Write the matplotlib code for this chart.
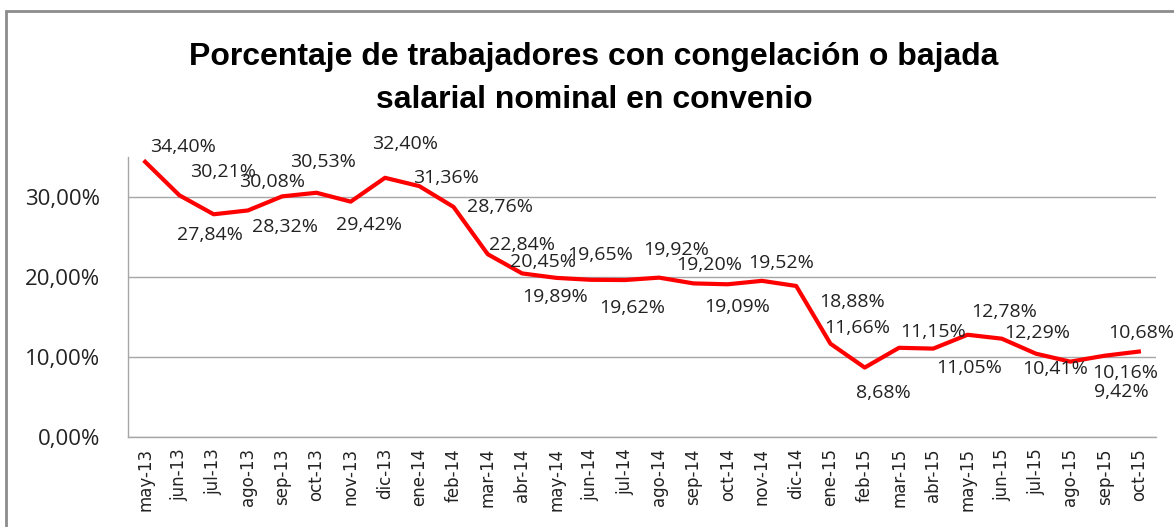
import matplotlib
matplotlib.use("Agg")
import matplotlib.pyplot as plt
from matplotlib.patches import Rectangle

months = ["may-13", "jun-13", "jul-13", "ago-13", "sep-13", "oct-13", "nov-13", "dic-13",
          "ene-14", "feb-14", "mar-14", "abr-14", "may-14", "jun-14", "jul-14", "ago-14",
          "sep-14", "oct-14", "nov-14", "dic-14", "ene-15", "feb-15", "mar-15", "abr-15",
          "may-15", "jun-15", "jul-15", "ago-15", "sep-15", "oct-15"]
pct = [34.40, 30.21, 27.84, 28.32, 30.08, 30.53, 29.42, 32.40,
       31.36, 28.76, 22.84, 20.45, 19.89, 19.65, 19.62, 19.92,
       19.20, 19.09, 19.52, 18.88, 11.66, 8.68, 11.15, 11.05,
       12.78, 12.29, 10.41, 9.42, 10.16, 10.68]
y_ticks = [0, 10, 20, 30]

# label offsets in pixels (dx right, dy down) as placed in the original
label_off = [(38, -15), (44, -23), (-4, 21), (37, 17), (-10, -14), (7, -31), (18, 23), (20, -34),
             (27, -8), (46, 0), (34, -9), (21, -11), (-1, 19), (10, -25), (7, 28), (17, -28),
             (16, -18), (9, 23), (19, -18), (56, 16), (27, -16), (19, 25), (34, -16), (36, 19),
             (37, -23), (35, -6), (19, 15), (51, 30), (21, 17), (2, -19)]

W, H = 1174, 527
fig = plt.figure(figsize=(W / 100, H / 100), dpi=100)
fig.patches.append(Rectangle((6 / W, -0.1), 1.2, 1.1 - 11 / H, transform=fig.transFigure,
                             fill=False, edgecolor="#8c8c8c", linewidth=2))

ax = fig.add_axes([128 / W, 1 - 437 / H, (1156 - 128) / W, (437 - 157) / H])
x = list(range(len(months)))
ax.plot(x, pct, color="#ff0000", linewidth=3, solid_joinstyle="round", zorder=3)
ax.set_xlim(-0.5, len(months) - 0.5)
ax.set_ylim(0, 35)
ax.set_yticks(y_ticks)
ax.set_yticklabels([f"{t:.2f}".replace(".", ",") + "%" for t in y_ticks],
                   fontsize=16, family=["Open Sans", "DejaVu Sans"], color="#222222")
ax.set_xticks(x)
ax.set_xticklabels(months, rotation=90, fontsize=12, color="#222222")
ax.tick_params(axis="both", length=0)
ax.tick_params(axis="x", pad=8)
ax.tick_params(axis="y", pad=20)
ax.grid(axis="y", color="#a6a6a6", linewidth=1)
ax.set_axisbelow(True)
for s in ("top", "right"):
    ax.spines[s].set_visible(False)
for s in ("left", "bottom"):
    ax.spines[s].set_color("#a6a6a6")
    ax.spines[s].set_linewidth(1)

for i, v in enumerate(pct):
    dx, dy = label_off[i]
    ax.annotate(f"{v:.2f}".replace(".", ",") + "%", (i, v), xytext=(dx, -dy),
                textcoords="offset pixels", ha="center", va="center",
                fontsize=14, family=["Open Sans", "DejaVu Sans"], color="#222222",
                annotation_clip=False, zorder=4)

title_font = ["Liberation Sans", "DejaVu Sans"]
fig.text(594 / W, 1 - 57 / H, "Porcentaje de trabajadores con congelación o bajada",
         ha="center", va="center", fontsize=23, fontweight="bold", family=title_font)
fig.text(594 / W, 1 - 100 / H, "salarial nominal en convenio",
         ha="center", va="center", fontsize=23, fontweight="bold", family=title_font)

fig.savefig("out.png", dpi=100)
